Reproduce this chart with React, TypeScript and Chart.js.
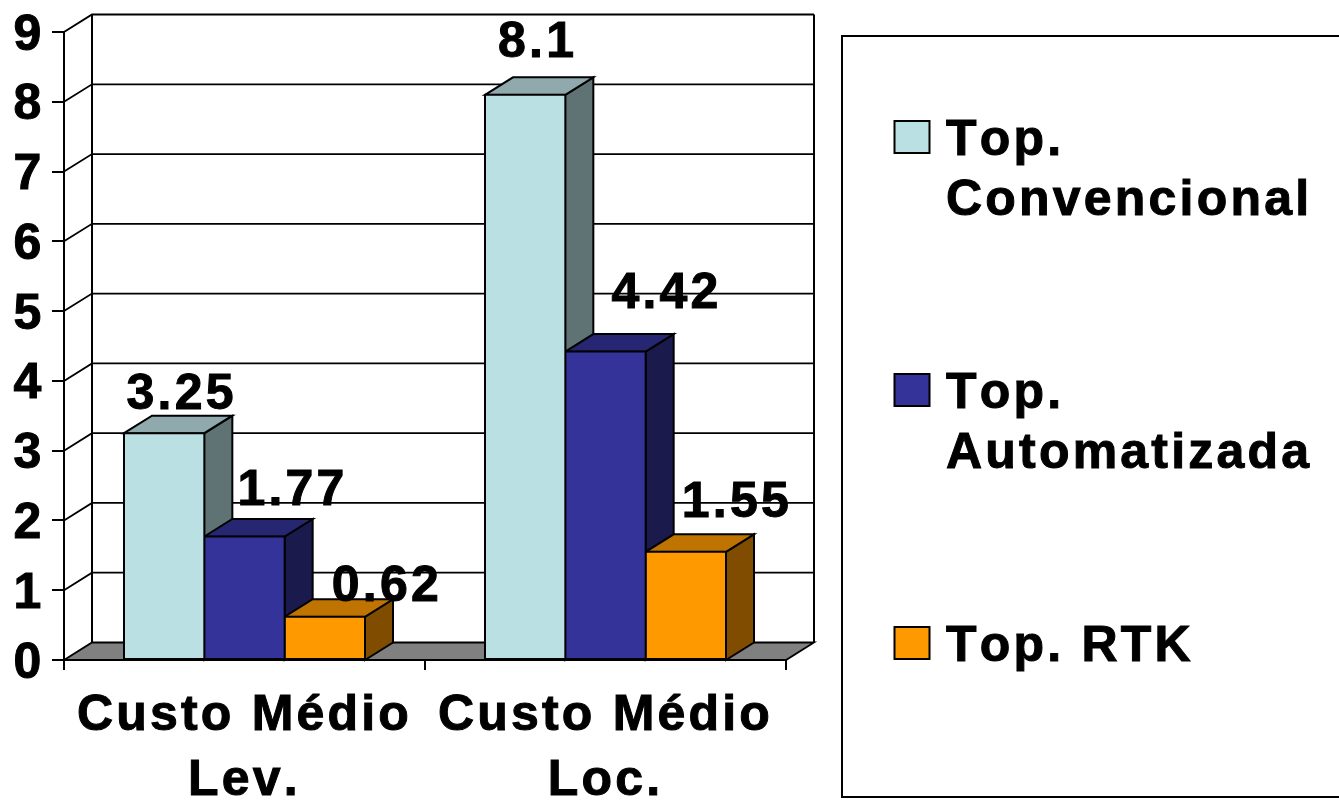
import { useEffect, useRef } from "react";
import { Chart, registerables } from "chart.js";

Chart.register(...registerables);

// Chart content
const categories = [["Custo Médio", "Lev."], ["Custo Médio", "Loc."]];
const seriesNames = ["Top. Convencional", "Top. Automatizada", "Top. RTK"];
const legendLines = [["Top.", "Convencional"], ["Top.", "Automatizada"], ["Top. RTK"]];
const convencional = [3.25, 8.1];
const automatizada = [1.77, 4.42];
const rtk = [0.62, 1.55];
const yTicksMax = 9;

// Face colours: front, top, side
const frontColors = ["#BAE0E3", "#333399", "#FF9900"];
const topColors = ["#8FA9AC", "#262673", "#BF7300"];
const sideColors = ["#5F7375", "#1A1A4D", "#804D00"];

// Projection of the chart's depth axis
const DEPTH_X = 28;
const DEPTH_Y = 17.5;

// Value label nudges relative to each bar's centre and top [dx, dy], by series then category
const labelNudges = [
  [[17.5, -24], [12.5, -38]],
  [[48, -31], [61, -44]],
  [[62, -16], [51, -35]],
];

const FONT_FAMILY = '"Liberation Sans", Arial, sans-serif';
const FONT_SIZE = 50;
const TEXT_FONT = `bold ${FONT_SIZE}px ${FONT_FAMILY}`;
const TRACKING = "3.2px";
const TEXT_STROKE = 1;

function poly(ctx: CanvasRenderingContext2D, pts: number[][], fill?: string, lw = 2) {
  ctx.beginPath();
  pts.forEach(([x, y], i) => (i ? ctx.lineTo(x, y) : ctx.moveTo(x, y)));
  ctx.closePath();
  if (fill) {
    ctx.fillStyle = fill;
    ctx.fill();
  }
  ctx.strokeStyle = "#000";
  ctx.lineWidth = lw;
  ctx.stroke();
}

function heavyText(ctx: CanvasRenderingContext2D, text: string, x: number, y: number) {
  ctx.lineWidth = TEXT_STROKE;
  ctx.strokeStyle = "#000";
  ctx.fillStyle = "#000";
  ctx.fillText(text, x, y);
  ctx.strokeText(text, x, y);
}

const trackingPlugin = {
  id: "tracking",
  beforeDraw(chart: any) {
    chart.ctx.letterSpacing = TRACKING;
    chart.ctx.fontKerning = "none";
  },
};

// Back wall, floor, side wall and the top and side faces of each bar
const depthPlugin = {
  id: "depth",
  beforeDatasetsDraw(chart: any) {
    const { ctx, scales } = chart;
    const { x, y } = scales;
    const left = x.left;
    const right = x.right;
    const y0 = y.getPixelForValue(0);
    ctx.save();
    poly(ctx, [[left, y0], [left + DEPTH_X, y0 - DEPTH_Y], [right + DEPTH_X, y0 - DEPTH_Y], [right, y0]], "#808080", 1.8);
    ctx.strokeStyle = "#000";
    for (let v = 1; v <= yTicksMax; v++) {
      const py = y.getPixelForValue(v);
      ctx.lineWidth = v === yTicksMax ? 2 : 1.8;
      ctx.beginPath();
      ctx.moveTo(left, py);
      ctx.lineTo(left + DEPTH_X, py - DEPTH_Y);
      ctx.lineTo(right + DEPTH_X, py - DEPTH_Y);
      ctx.stroke();
    }
    ctx.lineWidth = 2;
    const top = y.getPixelForValue(yTicksMax) - DEPTH_Y;
    [left + DEPTH_X, right + DEPTH_X].forEach((px) => {
      ctx.beginPath();
      ctx.moveTo(px, top);
      ctx.lineTo(px, y0 - DEPTH_Y);
      ctx.stroke();
    });
    categories.forEach((_, c) => {
      chart.data.datasets.forEach((_d: any, s: number) => {
        const bar = chart.getDatasetMeta(s).data[c];
        const xl = bar.x - bar.width / 2;
        const xr = bar.x + bar.width / 2;
        poly(ctx, [[xr, bar.y], [xr + DEPTH_X, bar.y - DEPTH_Y], [xr + DEPTH_X, y0 - DEPTH_Y], [xr, y0]], sideColors[s]);
        poly(ctx, [[xl, bar.y], [xl + DEPTH_X, bar.y - DEPTH_Y], [xr + DEPTH_X, bar.y - DEPTH_Y], [xr, bar.y]], topColors[s]);
      });
    });
    ctx.restore();
  },
  afterDatasetsDraw(chart: any) {
    const { ctx } = chart;
    ctx.save();
    ctx.font = TEXT_FONT;
    ctx.textAlign = "center";
    ctx.textBaseline = "alphabetic";
    chart.data.datasets.forEach((d: any, s: number) => {
      d.data.forEach((v: number, c: number) => {
        const bar = chart.getDatasetMeta(s).data[c];
        const [dx, dy] = labelNudges[s][c];
        heavyText(ctx, String(v), bar.x + dx, bar.y + dy);
      });
    });
    ctx.restore();
  },
};

// Value axis numbers, set on the digit baseline so they sit centred on their ticks
const yLabelsPlugin = {
  id: "yLabels",
  afterDraw(chart: any) {
    const { ctx } = chart;
    const y = chart.scales.y;
    ctx.save();
    ctx.font = TEXT_FONT;
    ctx.textAlign = "right";
    ctx.textBaseline = "alphabetic";
    y.ticks.forEach((t: any) => {
      heavyText(ctx, String(t.value), 44.5, y.getPixelForValue(t.value) + 17.5);
    });
    ctx.restore();
  },
};

// Boxed legend to the right of the plot, with wrapped series names
const legendBoxPlugin = {
  id: "legendBox",
  afterDraw(chart: any) {
    const { ctx } = chart;
    const rowTops = [121, 374, 627];
    ctx.save();
    ctx.strokeStyle = "#000";
    ctx.lineWidth = 2;
    ctx.fillStyle = "#fff";
    ctx.beginPath();
    ctx.rect(842, 36, 520, 761);
    ctx.fill();
    ctx.stroke();
    ctx.font = TEXT_FONT;
    ctx.textBaseline = "alphabetic";
    ctx.textAlign = "left";
    legendLines.forEach((lines, i) => {
      ctx.fillStyle = frontColors[i];
      ctx.strokeStyle = "#000";
      ctx.lineWidth = 2;
      ctx.beginPath();
      ctx.rect(894.5, rowTops[i], 35, 32);
      ctx.fill();
      ctx.stroke();
      lines.forEach((line, j) => heavyText(ctx, line, 946, rowTops[i] + 34 + j * 59.5));
    });
    ctx.restore();
  },
};

export default function App() {
  const ref = useRef<HTMLCanvasElement | null>(null);

  useEffect(() => {
    const barStyle = (i: number) => ({
      backgroundColor: frontColors[i],
      borderColor: "#000",
      borderWidth: 2,
      borderSkipped: false,
      inflateAmount: 1,
      categoryPercentage: 0.6676,
      barPercentage: 1,
    });
    const chart = new Chart(ref.current as HTMLCanvasElement, {
      type: "bar",
      data: {
        labels: categories as any,
        datasets: [
          { label: seriesNames[0], data: convencional, ...barStyle(0) },
          { label: seriesNames[1], data: automatizada, ...barStyle(1) },
          { label: seriesNames[2], data: rtk, ...barStyle(2) },
        ],
      } as any,
      plugins: [trackingPlugin, depthPlugin, yLabelsPlugin, legendBoxPlugin],
      options: {
        responsive: false,
        animation: false,
        layout: { padding: { left: 0, top: 32, right: 553, bottom: 0 } },
        plugins: { legend: { display: false }, tooltip: { enabled: false }, title: { display: false } },
        scales: {
          x: {
            afterFit: (s: any) => { s.height = 140; s.paddingLeft = 0; s.paddingRight = 0; },
            grid: { drawOnChartArea: false, drawTicks: true, tickLength: 10, color: "#000", lineWidth: 2 },
            border: { color: "#000", width: 2 },
            ticks: {
              color: "#000",
              padding: 14,
              maxRotation: 0,
              autoSkip: false,
              textStrokeColor: "#000",
              textStrokeWidth: TEXT_STROKE,
              font: { family: FONT_FAMILY, size: FONT_SIZE, weight: "bold", lineHeight: 1.3 },
            },
          },
          y: {
            min: 0,
            max: yTicksMax,
            afterFit: (s: any) => { s.width = 64; s.paddingTop = 0; s.paddingBottom = 0; },
            grid: { drawOnChartArea: false, drawTicks: true, tickLength: 12, color: "#000", lineWidth: 2 },
            border: { color: "#000", width: 2 },
            ticks: { display: false, stepSize: 1 },
          },
        },
      } as any,
    });
    return () => chart.destroy();
  }, []);

  return (
    <div style={{ position: "fixed", left: 0, top: 0, width: 1339, height: 800, background: "#fff" }}>
      <canvas ref={ref} width={1339} height={800} style={{ display: "block" }} />
    </div>
  );
}
